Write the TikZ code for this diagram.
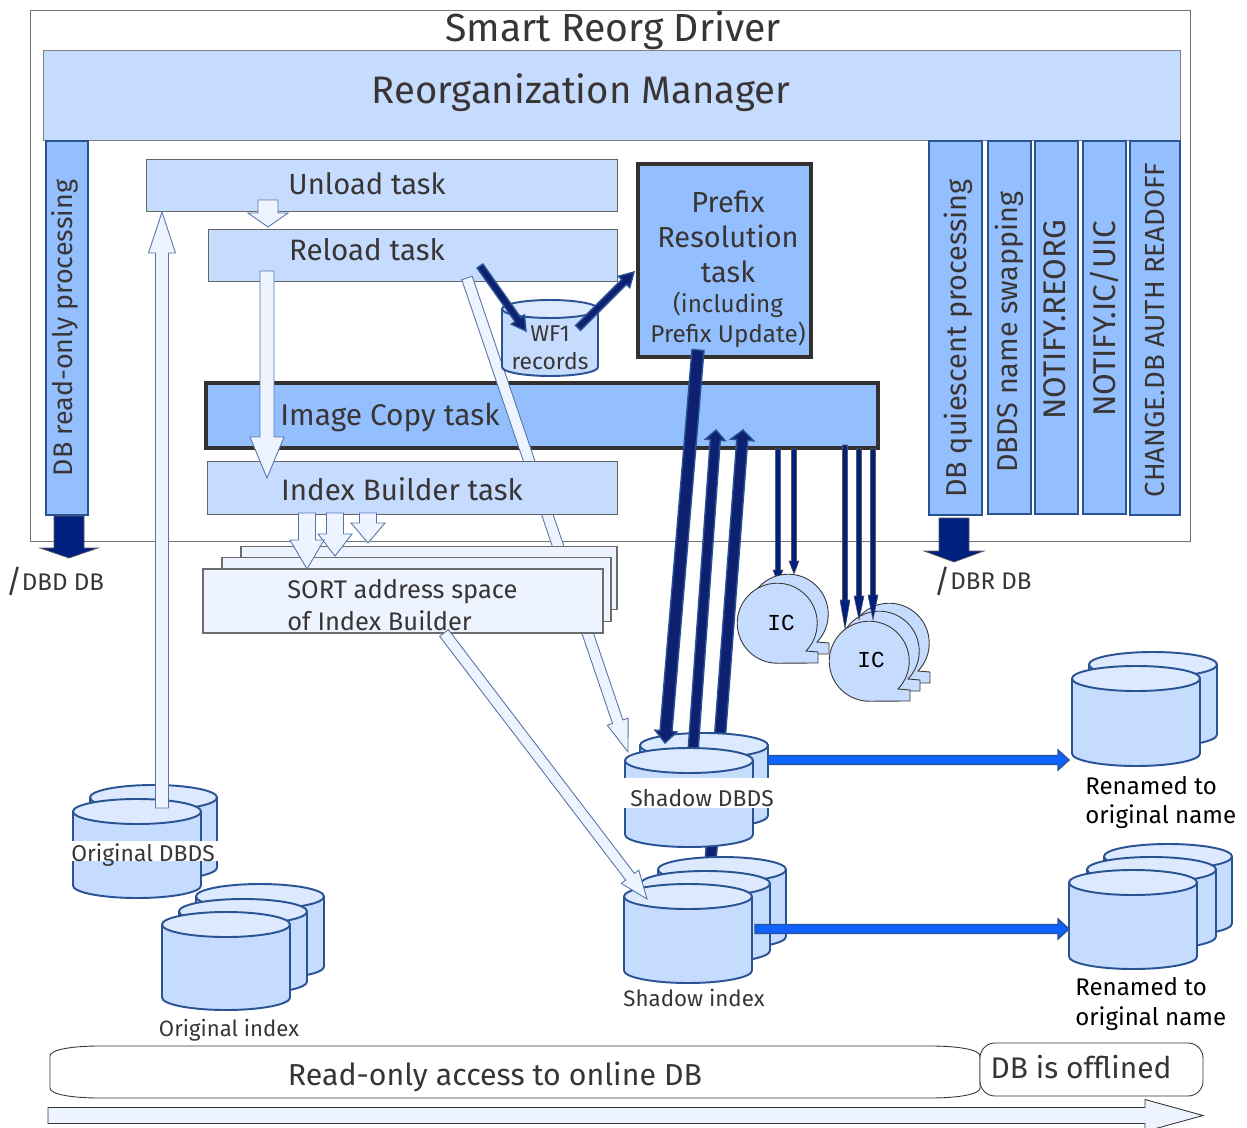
\documentclass[tikz,border=0pt]{standalone}
\usepackage{fontspec}
\setmainfont{Fira Sans}
\newfontfamily\icfont{Liberation Mono}
\usetikzlibrary{calc}
\definecolor{Pale}{HTML}{EDF4FF}
\definecolor{Light}{HTML}{C6DCFF}
\definecolor{Lid}{HTML}{DCE9FF}
\definecolor{Mid}{HTML}{93BFFF}
\definecolor{Edge}{HTML}{2A5394}
\definecolor{Ink}{HTML}{3A3535}
\definecolor{Navy}{HTML}{0E2070}
\definecolor{Royal}{HTML}{00207F}
\definecolor{Bright}{HTML}{0F62FE}
\newcommand{\Px}{0.02cm}
\newcommand{\Size}[1]{\fontsize{#1}{#1}\selectfont}
\newcommand{\BlockArrow}[6]{\coordinate (Neck) at ($(#3)!#6*\Px!(#2)$);
\draw[#1] ($(#2)!#4*\Px!90:(#3)$) -- ($(Neck)!#4*\Px!90:(#3)$) -- ($(Neck)!#5*\Px!90:(#3)$) -- (#3) -- ($(Neck)!#5*\Px!-90:(#3)$) -- ($(Neck)!#4*\Px!-90:(#3)$) -- ($(#2)!#4*\Px!-90:(#3)$) -- cycle;}
\newcommand{\Cyl}[6]{\coordinate (#1) at (#2+#4/2,#3+#5/2);
\draw[Drum, fill=Light] (#2,#3+#6) -- (#2,#3+#5-#6) arc[start angle=180, end angle=0, x radius=#4/2, y radius=#6] -- (#2+#4,#3+#6) -- cycle;
\draw[Drum, fill=Lid] (#2+#4/2,#3+#6) ellipse[x radius=#4/2, y radius=#6];}
\newcommand{\Roll}[3]{\coordinate (#1) at (#2,#3);
\draw[RollEdge] (#2+29,#3+28) arc[start angle=44, end angle=-270, radius=40] -- (#2+41,#3+40) -- (#2+41,#3+29) -- cycle;}
\tikzset{
Drum/.style={draw=Edge, line width=1.1pt},
RollEdge/.style={draw=Ink, fill=Light, line width=0.5pt},
Box/.style={draw=gray!80!black, line width=0.5pt, fill=Light},
Strong/.style={draw=Ink!90!black, line width=2.7pt, fill=Mid},
Side/.style={draw=Edge, line width=0.6pt, fill=Mid},
Sort/.style={draw=gray!85!black, line width=0.6pt, fill=Pale},
Word/.style={text=Ink, inner sep=0pt},
Pass/.style={draw=Edge!80!white, line width=0.5pt, fill=Pale},
Fat/.style={draw=Edge, line width=0.8pt, fill=Navy},
Thin/.style={draw=gray!70!black, line width=0.3pt, fill=Royal},
Out/.style={draw=gray!70!black, line width=0.4pt, fill=Royal},
Rename/.style={draw=Edge, line width=0.8pt, fill=Bright},
}
\begin{document}
\begin{tikzpicture}[x=\Px,y=-\Px]
\useasboundingbox (0,0) rectangle (1247,1128);
\draw[draw=gray!90!black, line width=0.5pt, fill=white] (30,10) rectangle (1190,541);
\node[Word, font=\Size{22.3}] (Driver) at (613,30) {Smart Reorg Driver};
\draw[Box, draw=gray] (43,50) rectangle (1180,140);
\node[Word, font=\Size{21.8}] (Manager) at (581,93) {Reorganization Manager};
\draw[Side] (46,141) rectangle (88,515);
\node[Word, font=\Size{15.3}, rotate=90] (ReadOnly) at (65,328) {DB read-only processing};
\draw[Side] (929,141) rectangle (982,515);
\node[Word, font=\Size{16.4}, rotate=90] (Quiescent) at (958,338.5) {DB quiescent processing};
\draw[Side] (988,141) rectangle (1031,514);
\node[Word, font=\Size{16.35}, rotate=90] (Swapping) at (1009,332) {DBDS name swapping};
\draw[Side] (1035,141) rectangle (1078,514);
\node[Word, font=\Size{17.8}, rotate=90] (Reorg) at (1055,320) {NOTIFY.REORG};
\draw[Side] (1083,141) rectangle (1126,514);
\node[Word, font=\Size{17.9}, rotate=90] (Uic) at (1104,319) {NOTIFY.IC/UIC};
\draw[Side] (1130,141) rectangle (1180,515);
\node[Word, font=\Size{15.7}, rotate=90] (Readoff) at (1155,330) {CHANGE.DB AUTH READOFF};
\coordinate (DbdTail) at (69,516); \coordinate (DbdTip) at (69,558);
\BlockArrow{Out}{DbdTail}{DbdTip}{15}{29}{10}
\coordinate (DbrTail) at (954,518); \coordinate (DbrTip) at (954,562);
\BlockArrow{Out}{DbrTail}{DbrTip}{15}{30}{11}
\node[Word, font=\Size{18}] (SlashD) at (14,581) {/};
\node[Word, font=\Size{13.7}] (DbdDb) at (63,582) {DBD DB};
\node[Word, font=\Size{18}] (SlashR) at (942,581) {/};
\node[Word, font=\Size{13.7}] (DbrDb) at (991,581) {DBR DB};
\draw[Box] (146,159) rectangle (617,211);
\node[Word, font=\Size{16.6}] (Unload) at (367,184) {Unload task};
\draw[Box] (208,229) rectangle (617,281);
\node[Word, font=\Size{16.8}] (Reload) at (367,250) {Reload task};
\coordinate (UnloadOut) at (268,200); \coordinate (ReloadIn) at (268,227);
\BlockArrow{Pass}{UnloadOut}{ReloadIn}{10}{20}{14}
\draw[Strong] (206,383) rectangle (878,448);
\node[Word, font=\Size{17}] (Copy) at (390,417) {Image Copy task};
\coordinate (ReloadOut) at (467,278); \coordinate (DbdsIn) at (628,752);
\BlockArrow{Pass}{ReloadOut}{DbdsIn}{5.5}{11}{32}
\draw[Box] (207,461) rectangle (617,514);
\node[Word, font=\Size{16.8}] (Builder) at (402,489) {Index Builder task};
\foreach \d/\r/\b in {38/14/63,19/8/64,0/0/64}\draw[Sort] (203+\d,569-\d*0.6) rectangle (603+\r,569-\d*0.6+\b);
\node[Word, font=\Size{14.5}, anchor=west, align=left] (Sort) at (287,605) {SORT address space\\[4pt]of Index Builder};
\foreach \x/\n/\t in {368/523/543,335/534/556,307/540/569}{
\coordinate (SortTail) at (\x,513); \coordinate (SortTip) at (\x,\t);
\pgfmathsetmacro{\HeadLen}{\t-\n}
\BlockArrow{Pass}{SortTail}{SortTip}{8.5}{17}{\HeadLen}}
\coordinate (ReloadDown) at (267,271); \coordinate (BuilderIn) at (267,478);
\BlockArrow{Pass}{ReloadDown}{BuilderIn}{7}{17}{41}
\coordinate (OrigOut) at (162,808); \coordinate (UnloadIn) at (162,212);
\Cyl{OrigBack}{90}{785}{127}{95}{12.5}
\Cyl{OrigFront}{73}{799}{128}{99}{12.5}
\BlockArrow{Pass}{OrigOut}{UnloadIn}{6.5}{13.5}{41}
\fill[white] (60,841) rectangle (225,861);
\node[Word, font=\Size{13}] (OrigLabel) at (143,855) {Original DBDS};
\Cyl{IndexBack}{196}{884}{128}{95}{12.5}
\Cyl{IndexMid}{179}{899}{128}{95}{12.5}
\Cyl{IndexFront}{162}{912}{128}{98}{12.5}
\node[Word, font=\Size{12.6}] (IndexLabel) at (229,1030) {Original index};
\Cyl{WorkFile}{502}{300}{96}{76}{9}
\coordinate (ReloadWf) at (480,266); \coordinate (WfIn) at (526,331);
\BlockArrow{Fat}{ReloadWf}{WfIn}{3.5}{8}{14}
\coordinate (WfOut) at (578,328); \coordinate (PrefixIn) at (634,272);
\BlockArrow{Fat}{WfOut}{PrefixIn}{3.5}{8}{14}
\node[Word, font=\Size{13}, align=center] (Records) at (550,348) {WF1\\[3pt]records};
\draw[Strong] (638,164) rectangle (811,357);
\node[Word, font=\Size{16.5}, align=center] (Prefix) at (728,237) {Prefix\\[3.5pt]Resolution\\[3.5pt]task};
\node[Word, font=\Size{13.8}, align=center] (Including) at (728,320) {(including\\[1.5pt]Prefix Update)};
\coordinate (ShadowUp) at (709,882); \coordinate (CopyInB) at (743,430);
\BlockArrow{Fat}{ShadowUp}{CopyInB}{5.5}{11.5}{10}
\Cyl{ShadowBack}{640}{733}{128}{95}{12.5}
\coordinate (PrefixOut) at (698,350); \coordinate (ShadowDown) at (665,743);
\BlockArrow{Fat}{PrefixOut}{ShadowDown}{6}{11}{12}
\coordinate (ShadowMid) at (693,752); \coordinate (CopyInA) at (716,430);
\BlockArrow{Fat}{ShadowMid}{CopyInA}{5}{10}{10}
\Cyl{ShadowFront}{625}{748}{128}{99}{12.5}
\fill[white] (607,778) rectangle (782,808);
\node[Word, font=\Size{13}] (ShadowLabel) at (702,798) {Shadow DBDS};
\Cyl{ShadowIdxBack}{658}{857}{128}{92}{12.5}
\Cyl{ShadowIdxMid}{641}{871}{129}{92}{12.5}
\Cyl{ShadowIdxFront}{624}{884}{128}{99}{12.5}
\node[Word, font=\Size{12.7}] (ShadowIdxLabel) at (694,998) {Shadow index};
\coordinate (SortOut) at (444,633); \coordinate (IndexIn) at (647,899);
\BlockArrow{Pass}{SortOut}{IndexIn}{5.5}{11}{28}
\coordinate (DbdsOut) at (768,760); \coordinate (RenamedIn) at (1069,760);
\BlockArrow{Rename}{DbdsOut}{RenamedIn}{4.5}{10}{11}
\coordinate (IdxOut) at (755,929); \coordinate (RenamedIdx) at (1069,929);
\BlockArrow{Rename}{IdxOut}{RenamedIdx}{4.5}{10}{11}
\Cyl{RenamedBack}{1089}{652}{128}{95}{12.5}
\Cyl{RenamedFront}{1072}{666}{128}{100}{12.5}
\node[Word, text=black, font=\Size{13.7}, anchor=west, align=left] (RenamedA) at (1085,802.5) {Renamed to\\[3pt]original name};
\Cyl{RenamedIdxBack}{1104}{844}{128}{92}{12.5}
\Cyl{RenamedIdxMid}{1087}{857}{129}{92}{12.5}
\Cyl{RenamedIdxFront}{1069}{870}{128}{99}{12.5}
\node[Word, text=black, font=\Size{13.7}, anchor=west, align=left] (RenamedB) at (1075,1004) {Renamed to\\[3pt]original name};
\coordinate (CopyA) at (778,449); \coordinate (RollA) at (778,583);
\BlockArrow{Thin}{CopyA}{RollA}{2.7}{5}{13}
\coordinate (CopyB) at (794,449); \coordinate (RollB) at (794,574);
\BlockArrow{Thin}{CopyB}{RollB}{2.5}{5}{13}
\Roll{IcBack}{788}{614}
\Roll{IcFront}{777}{623}
\node[font=\Size{13}\icfont] (IcOne) at (781,623) {IC};
\Roll{IcTwoBack}{889}{643}
\Roll{IcTwoMid}{879}{651}
\foreach \x/\s/\t/\h in {845/445/629/29,859/449/620/24,873/449/620/25}{
\coordinate (CopyC) at (\x,\s); \coordinate (RollC) at (\x,\t);
\BlockArrow{Thin}{CopyC}{RollC}{2.5}{5}{\h}}
\Roll{IcTwoFront}{869}{661}
\node[font=\Size{13}\icfont] (IcTwo) at (871,660) {IC};
\draw[draw=Ink, line width=0.5pt, fill=white] (50,1056) .. controls (50,1050) and (70,1046) .. (100,1046) -- (930,1046) .. controls (960,1046) and (980,1050) .. (980,1056) -- (980,1088) .. controls (980,1094) and (960,1098) .. (930,1098) -- (100,1098) .. controls (70,1098) and (50,1094) .. (50,1088) -- cycle;
\node[Word, font=\Size{17.25}] (Online) at (495,1077) {Read-only access to online DB};
\draw[draw=Ink, line width=0.5pt, fill=white, rounded corners=0.3cm] (980,1043) rectangle (1203,1096);
\node[Word, font=\Size{17}] (Offlined) at (1081,1067) {DB is offlined};
\coordinate (TimeTail) at (48,1115.5); \coordinate (TimeTip) at (1203,1115.5);
\BlockArrow{Pass, draw=Ink}{TimeTail}{TimeTip}{8}{16}{58}
\end{tikzpicture}
\end{document}
